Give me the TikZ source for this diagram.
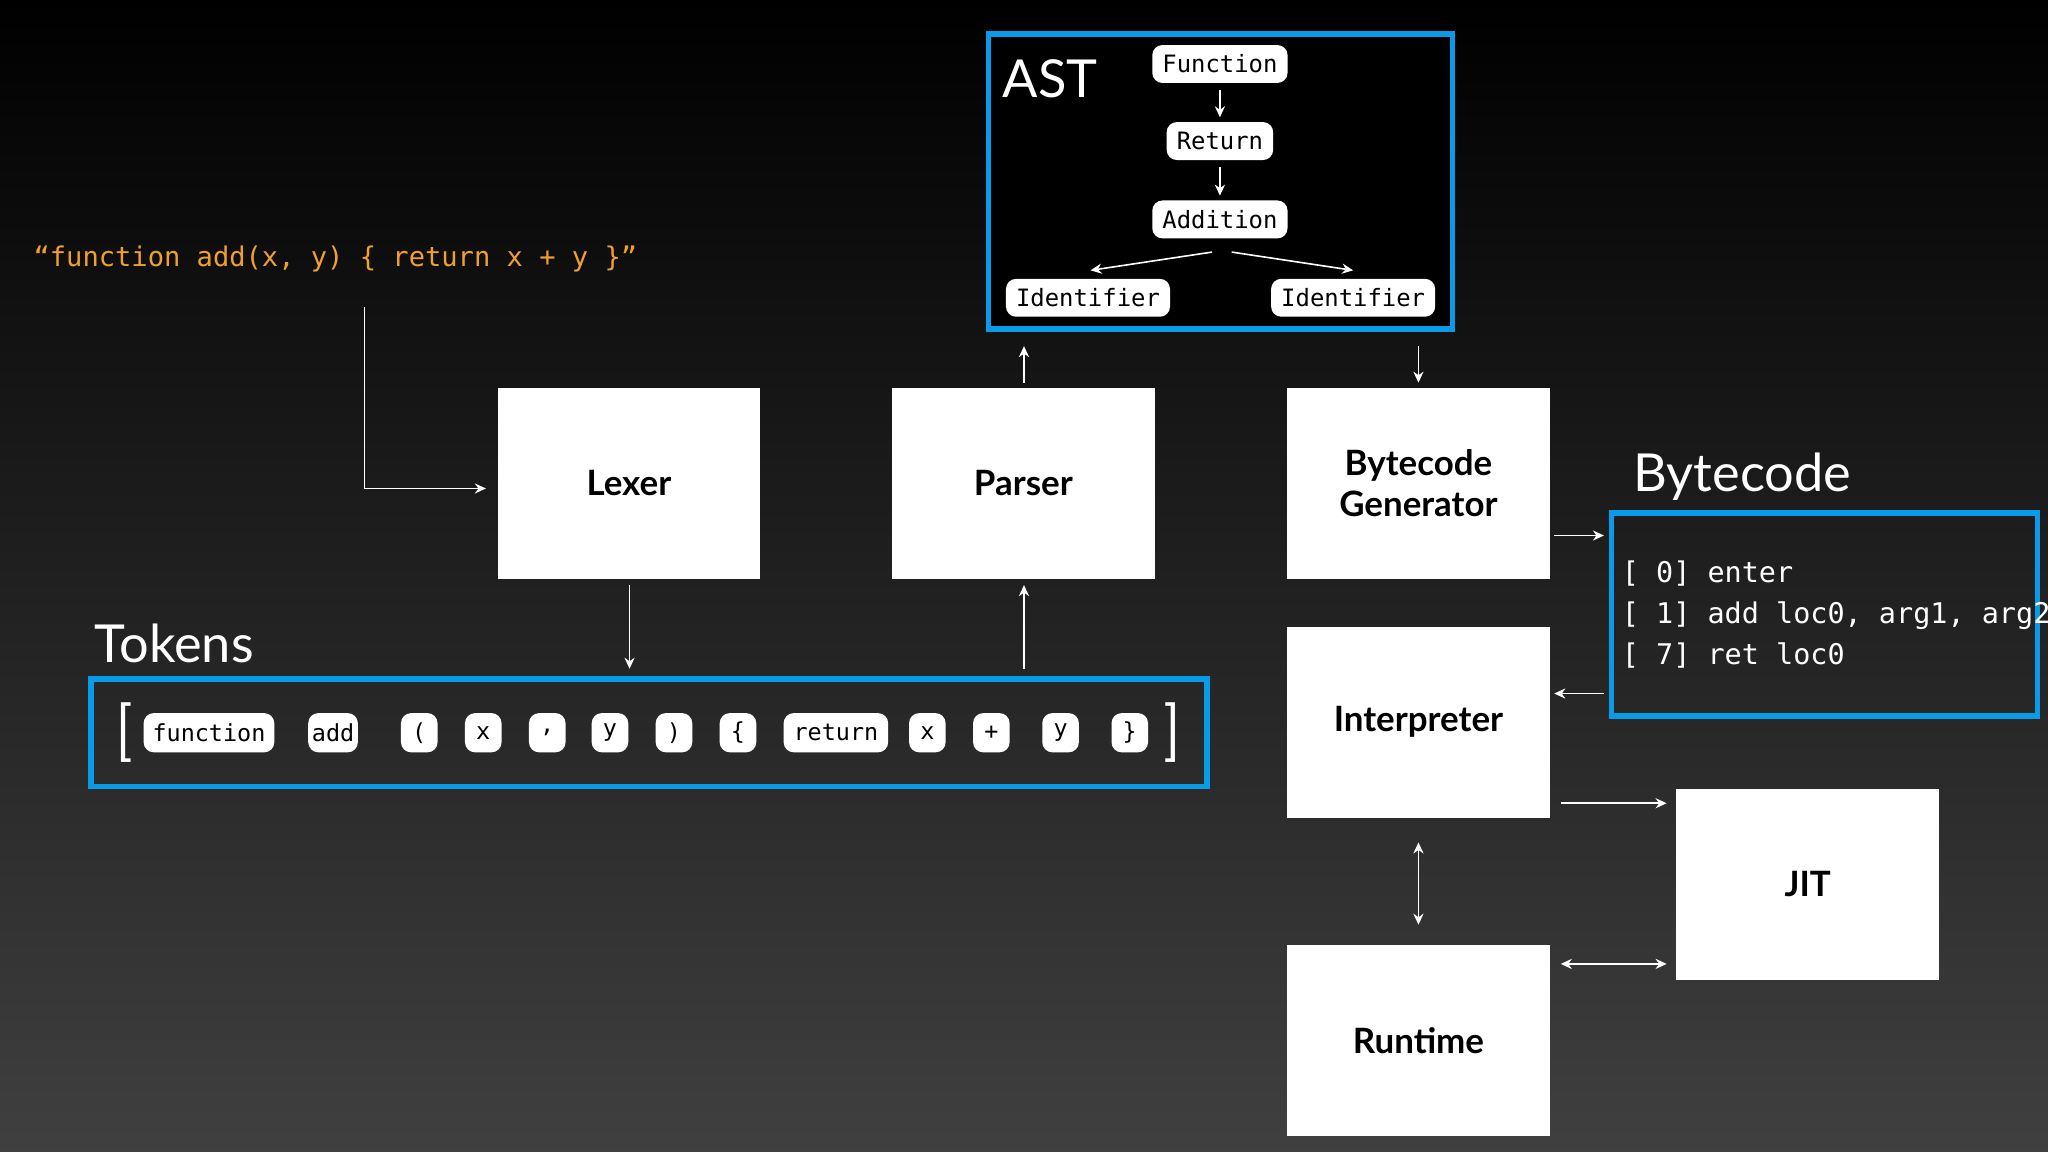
\documentclass[tikz,border=0pt]{standalone}
\usepackage{fontspec}
\setmainfont{Lato}
\newfontfamily\monof{DejaVu Sans Mono}
\usetikzlibrary{arrows.meta}
\definecolor{bl}{HTML}{0A9BE8}
\definecolor{og}{HTML}{F0A030}
\begin{document}
\begin{tikzpicture}[x=0.01cm,y=-0.01cm,
  box/.style={draw=none,fill=white,minimum width=2.01cm,minimum height=1.46cm,font=\fontsize{7.6}{9}\selectfont\bfseries,align=center,text=black},
  pill/.style={fill=white,rounded corners=2.2pt,inner xsep=1.6pt,inner ysep=1.2pt,minimum height=0.3cm,minimum width=0.28cm,font=\monof\fontsize{5.1}{6}\selectfont,text=black},
  apill/.style={pill,font=\monof\fontsize{5.2}{6}\selectfont,minimum height=0.29cm,inner xsep=2.2pt},
  ar/.style={draw=white,line width=0.35pt,-{Stealth[length=2.4pt,width=2.2pt]}},
  dar/.style={draw=white,line width=0.35pt,{Stealth[length=2.4pt,width=2.2pt]}-{Stealth[length=2.4pt,width=2.2pt]}},
  bluebox/.style={draw=bl,line width=1.2pt},
  head/.style={text=white,font=\fontsize{11.4}{13}\selectfont,inner sep=0pt}]
\shade[top color=black,bottom color=black!75!white] (0,0) rectangle (1568,882);
\useasboundingbox (0,0) rectangle (1568,882);
% code
\node[text=og,font=\monof\fontsize{5.9}{7}\selectfont,anchor=west,inner sep=0pt] (code) at (25,198) {“function add(x, y) \{ return x + y \}”};
\coordinate (c0) at (279,235);
% boxes
\node[box] (lex) at (481.5,370) {Lexer};
\node[box] (par) at (783.5,370) {Parser};
\node[box] (bg) at (1086,370) {Bytecode\\Generator};
\node[box] (int) at (1086,553) {Interpreter};
\node[box] (rt) at (1086,796.5) {Runtime};
\node[box] (jit) at (1384,677) {JIT};
\coordinate (lexin) at (372,374);
\draw[ar] (c0) |- (lexin);
% AST
\node[bluebox,fill=black,minimum width=3.55cm,minimum height=2.26cm,inner sep=0pt] (ast) at (934.5,139) {};
\node[head,anchor=west] (astl) at (767,60) {AST};
\node[apill] (fn) at (934,49) {Function};
\node[apill] (ret) at (934,108) {Return};
\node[apill] (add) at (934,168) {Addition};
\node[apill] (id1) at (833,228) {Identifier};
\node[apill] (id2) at (1036,228) {Identifier};
\draw[ar] ([yshift=-0.05cm]fn.south) -- ([yshift=0.03cm]ret.north);
\draw[ar] ([yshift=-0.05cm]ret.south) -- ([yshift=0.03cm]add.north);
\coordinate (a1) at (928,193); \coordinate (a2) at (943,193);
\coordinate (t1) at (835,207); \coordinate (t2) at (1036,207);
\draw[ar] (a1) -- (t1);
\draw[ar] (a2) -- (t2);
% tokens
\node[head,anchor=west] (tokl) at (72,493) {Tokens};
\node[bluebox,minimum width=8.54cm,minimum height=0.82cm,inner sep=0pt] (tok) at (497,561) {};
\node[text=white,font=\fontsize{13}{14}\selectfont\sffamily,inner sep=0pt] (lb) at (95,561) {[};
\node[text=white,font=\fontsize{13}{14}\selectfont\sffamily,inner sep=0pt] (rb) at (898,561) {]};
\node[pill,minimum width=1.0cm] (k1) at (160,561) {function};
\node[pill,inner xsep=0.8pt] (k2) at (255,561) {add};
\node[pill] (k3) at (321,561) {(};
\node[pill] (k4) at (370,561) {x};
\node[pill] (k5) at (419,561) {,};
\node[pill] (k6) at (467,561) {y};
\node[pill] (k7) at (516,561) {)};
\node[pill] (k8) at (565,561) {\{};
\node[pill,minimum width=0.8cm] (k9) at (640,561) {return};
\node[pill] (k10) at (710,561) {x};
\node[pill] (k11) at (759,561) {+};
\node[pill] (k12) at (812,561) {y};
\node[pill] (k13) at (865,561) {\}};
% bytecode
\node[head,anchor=west] (bcl) at (1250,365) {Bytecode};
\node[bluebox,minimum width=3.26cm,minimum height=1.55cm,inner sep=0pt] (bc) at (1397,470.5) {};
\node[anchor=west,text=white,font=\monof\fontsize{6.2}{9}\selectfont,align=left,inner sep=0pt] (bct) at (1241,470.5) {[ 0] enter\\[0pt][ 1] add loc0, arg1, arg2\\[0pt][ 7] ret loc0};
% connector end points
\coordinate (p1) at (482,448); \coordinate (p2) at (482,512);
\coordinate (p3) at (784,512); \coordinate (p4) at (784,448);
\coordinate (p5) at (784,293); \coordinate (p6) at (784,265);
\coordinate (p7) at (1086,265); \coordinate (p8) at (1086,293);
\coordinate (p9) at (1190,410); \coordinate (p10) at (1228,410);
\coordinate (p11) at (1228,531); \coordinate (p12) at (1190,531);
\coordinate (p13) at (1195,615); \coordinate (p14) at (1276,615);
\coordinate (p15) at (1086,645); \coordinate (p16) at (1086,708);
\coordinate (p17) at (1195,738); \coordinate (p18) at (1276,738);
\draw[ar] (p1) -- (p2);
\draw[ar] (p3) -- (p4);
\draw[ar] (p5) -- (p6);
\draw[ar] (p7) -- (p8);
\draw[ar] (p9) -- (p10);
\draw[ar] (p11) -- (p12);
\draw[ar] (p13) -- (p14);
\draw[dar] (p15) -- (p16);
\draw[dar] (p17) -- (p18);
\end{tikzpicture}
\end{document}
